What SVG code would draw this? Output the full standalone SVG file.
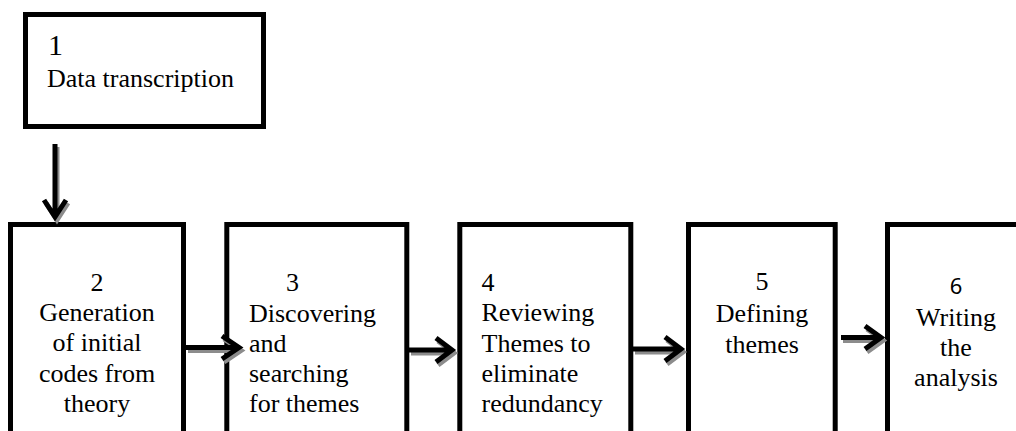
<svg xmlns="http://www.w3.org/2000/svg" width="1016" height="431" viewBox="0 0 1016 431">
<style>
.box{fill:#fff;stroke:#000;stroke-width:5}
.t{font-family:"Liberation Serif","Times New Roman",serif;font-size:26px;fill:#000}
.c{text-anchor:middle}
.big{font-size:30px}
.sans{font-family:"Noto Sans","Liberation Sans",sans-serif;font-size:22px;fill:#000}
.arr{fill:none;stroke:#000;stroke-width:5;stroke-linejoin:miter;stroke-linecap:butt}
.sh{fill:none;stroke:#8c8c8c;stroke-width:5;stroke-linejoin:miter}
</style>
<rect width="1016" height="431" fill="#fff"/>
<g id="node1">
  <rect class="box" x="25.5" y="14.5" width="238" height="112"/>
  <text class="t big" x="48" y="55">1</text>
  <text class="t" x="47" y="87">Data transcription</text>
</g>
<g id="node2">
  <rect class="box" x="10.5" y="224.5" width="173" height="230"/>
  <text class="t c" x="97" y="291">2</text>
  <text class="t c" x="97" y="321">Generation</text>
  <text class="t c" x="97" y="351">of initial</text>
  <text class="t c" x="97" y="381.5">codes from</text>
  <text class="t c" x="97" y="411.5">theory</text>
</g>
<g id="node3">
  <rect class="box" x="226.8" y="224.5" width="180" height="230"/>
  <text class="t" x="286" y="291">3</text>
  <text class="t" x="249" y="322">Discovering</text>
  <text class="t" x="249" y="352">and</text>
  <text class="t" x="249" y="382">searching</text>
  <text class="t" x="249" y="412">for themes</text>
</g>
<g id="node4">
  <rect class="box" x="459.8" y="224.5" width="171" height="230"/>
  <text class="t" x="481.5" y="291">4</text>
  <text class="t" x="481.5" y="321">Reviewing</text>
  <text class="t" x="481.5" y="351.5">Themes to</text>
  <text class="t" x="481.5" y="382">eliminate</text>
  <text class="t" x="481.5" y="412">redundancy</text>
</g>
<g id="node5">
  <rect class="box" x="688.5" y="224.5" width="146.7" height="230"/>
  <text class="t c" x="762" y="290">5</text>
  <text class="t c" x="762" y="322">Defining</text>
  <text class="t c" x="762" y="352.5">themes</text>
</g>
<g id="node6">
  <rect class="box" x="887.5" y="224.5" width="200" height="230"/>
  <text class="sans c" x="956" y="294">6</text>
  <text class="t c" x="956" y="326">Writing</text>
  <text class="t c" x="956" y="356">the</text>
  <text class="t c" x="956" y="386">analysis</text>
</g>
<g id="connectors">
  <g transform="translate(2,3)">
    <path class="sh" d="M55 144 V217 M44 200 L55 217 L66 200"/>
    <path class="sh" d="M186 347.5 H239 M222 336 L239 347.5 L222 359"/>
    <path class="sh" d="M409 350 H452 M436 338 L452 350 L436 362"/>
    <path class="sh" d="M633 349 H681 M665 337 L681 349 L665 361"/>
    <path class="sh" d="M841 337.5 H881 M865 326 L881 337.5 L865 349"/>
  </g>
  <path class="arr" d="M55 144 V217 M44 200 L55 217 L66 200"/>
  <path class="arr" d="M186 347.5 H239 M222 336 L239 347.5 L222 359"/>
  <path class="arr" d="M409 350 H452 M436 338 L452 350 L436 362"/>
  <path class="arr" d="M633 349 H681 M665 337 L681 349 L665 361"/>
  <path class="arr" d="M841 337.5 H881 M865 326 L881 337.5 L865 349"/>
</g>
</svg>
